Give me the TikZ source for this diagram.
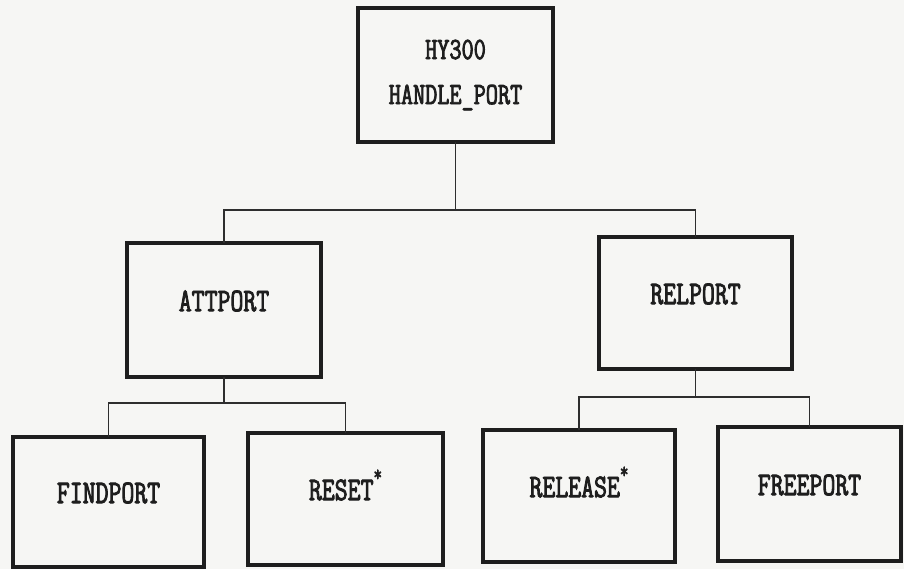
\documentclass[tikz,border=0pt]{standalone}
\usepackage{fontspec}
\usepackage{tikz}
\usetikzlibrary{positioning,calc}
\newfontfamily\dotfont[FakeStretch=0.76,FakeBold=2.6]{Latin Modern Mono}
\definecolor{paper}{HTML}{F6F6F4}
\definecolor{ink}{HTML}{1E1E1E}
\definecolor{inkii}{HTML}{2E2E2E}
\newcommand\starmark{\smash{\raisebox{19pt}{\fontsize{22}{22}\selectfont *}}}
\tikzset{
  box/.style   = {draw=ink, line width=3.6pt, inner sep=0pt, outer sep=0pt},
  wire/.style  = {draw=inkii, line width=1.3pt},
  lab/.style   = {font=\fontsize{33}{38}\selectfont\dotfont\color{ink}, inner sep=0pt, outer sep=0pt},
  rootlab/.style = {font=\fontsize{31}{45}\selectfont\dotfont\color{ink}, align=center},
}

\begin{document}
\begin{tikzpicture}[x=1pt,y=1pt]
\path[use as bounding box, fill=paper] (0,0) rectangle (904,569);

% ---- the main routine ---------------------------------------------------
\node[box, rootlab, minimum width=195, minimum height=134] (root) at (455.5,494)
  {HY300\\HANDLE\_PORT};

% ---- the routines it calls, and the ones they call ----------------------
\foreach \nm/\x/\y/\w/\h/\txt in {%
  att/224/259/194/134/{ATTPORT},
  rel/695.5/266/193/132/{RELPORT},
  find/108.5/67/191/130/{FINDPORT},
  reset/345.5/70/195/132/{RESET\starmark},
  release/579/73/192/132/{RELEASE\starmark},
  free/809.5/75/183/134/{FREEPORT}} {
  \node[box, minimum width=\w, minimum height=\h] (\nm) at (\x,\y) {};
  \node[lab] (\nm-lab) at ([yshift=9pt]\nm.center) {\txt};
}

% ---- the wiring ---------------------------------------------------------
\coordinate (rootbus) at (455.5,359);
\coordinate (attbus)  at (224,166);
\coordinate (relbus)  at (695.5,172);

\draw[wire] (root.south) -- (rootbus);
\draw[wire] (att.north) |- (rootbus) -| (rel.north);
\draw[wire] (att.south) -- (attbus);
\draw[wire] (find.north) |- (attbus) -| (reset.north);
\draw[wire] (rel.south) -- (relbus);
\draw[wire] (release.north) |- (relbus) -| (free.north);

\end{tikzpicture}
\end{document}
